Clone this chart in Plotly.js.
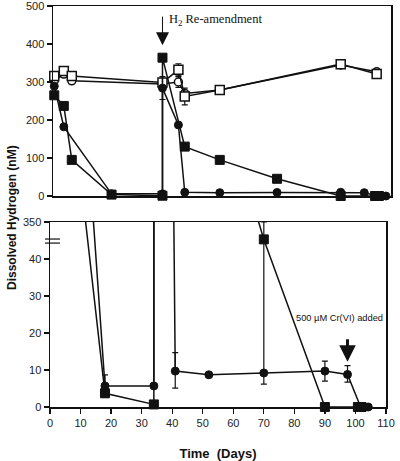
<!DOCTYPE html>
<html><head><meta charset="utf-8">
<script src="https://cdn.plot.ly/plotly-3.0.1.min.js"></script>
<style>html,body{margin:0;padding:0;background:#fff}</style>
</head><body>
<div id="chart" style="width:400px;height:461px"></div>
<script>
// Filled squares
const sqDays = [0, 3, 5.5, 18, 34, 34, 41, 52, 70, 90, 100.8, 102];
const sqVals = [265, 237, 95, 3.7, 0.7, 364, 130, 95, 45.3, 0, 0, 0];
// Filled circles
const ciDays = [0, 3, 18, 34, 34, 39, 41, 52, 70, 90, 97.4, 101.7, 104.2];
const ciVals = [289, 182, 5.7, 5.7, 284, 187, 9.7, 8.7, 9.2, 9.7, 8.8, 0, 0];
const ciErrTopPlus  = [0, 0, 0, 0, 30, 0, 0, 0, 0, 0, 0, 0, 0];
const ciErrTopMinus = [0, 0, 0, 0, 30, 0, 0, 0, 0, 0, 0, 0, 0];
const ciErrBotPlus  = [0, 0, 3, 0, 0, 0, 5, 0, 40.8, 2.7, 2.4, 0, 0];
const ciErrBotMinus = [0, 0, 3, 0, 0, 0, 4.6, 0, 3, 2.7, 2.1, 0, 0];
// Open squares
const osDays = [0, 3, 5.5, 34, 39, 41, 52, 90, 101.3];
const osVals = [316, 329, 316, 299, 332, 262, 279, 347, 321];
const osErr  = [0, 0, 0, 0, 16, 22, 0, 0, 0];
// Open circles
const ocDays = [0, 3, 5.5, 34, 39, 41, 52, 90, 101.3];
const ocVals = [303, 321, 303, 295, 300, 270, 279, 345, 327];
const ocErr  = [0, 0, 0, 0, 14, 0, 0, 0, 0];
// Axis ticks
const botYTickVals = [0, 10, 20, 30, 40, 50];
const botYTickText = ['0', '10', '20', '30', '40', '350'];
const topYTickVals = [0, 100, 200, 300, 400, 500];

const BLACK = '#111';
const lineStyle = {color: BLACK, width: 1.5};
const mSq = {symbol: 'square', size: 9, color: BLACK, line: {color: BLACK, width: 1}};
const mCi = {symbol: 'circle', size: 8, color: BLACK, line: {color: BLACK, width: 1}};
const mOs = {symbol: 'square', size: 9, color: '#fff', line: {color: BLACK, width: 1.5}};
const mOc = {symbol: 'circle', size: 8, color: '#fff', line: {color: BLACK, width: 1.5}};

function errY(plus, minus) {
  return {type: 'data', symmetric: false, array: plus, arrayminus: minus || plus,
          color: BLACK, thickness: 1.2, width: 3};
}

// Bottom panel: lines (clipped) + markers only where in range
function inRange(days, vals, lim, extra) {
  const x = [], y = [], p = [], m = [];
  days.forEach((d, i) => {
    if (vals[i] <= lim) {
      x.push(d); y.push(vals[i]);
      if (extra) { p.push(extra[0][i]); m.push(extra[1][i]); }
    }
  });
  return {x, y, p, m};
}
const ciB = inRange(ciDays, ciVals, 50, [ciErrBotPlus, ciErrBotMinus]);
const sqB = inRange(sqDays, sqVals, 50);

const traces = [
  // top panel
  {x: ocDays, y: ocVals, xaxis: 'x', yaxis: 'y', mode: 'lines+markers', line: lineStyle, marker: mOc,
   error_y: errY(ocErr), cliponaxis: false},
  {x: osDays, y: osVals, xaxis: 'x', yaxis: 'y', mode: 'lines+markers', line: lineStyle, marker: mOs,
   error_y: errY(osErr), cliponaxis: false},
  {x: ciDays, y: ciVals, xaxis: 'x', yaxis: 'y', mode: 'lines+markers', line: lineStyle, marker: mCi,
   error_y: errY(ciErrTopPlus, ciErrTopMinus), cliponaxis: false},
  {x: sqDays, y: sqVals, xaxis: 'x', yaxis: 'y', mode: 'lines+markers', line: lineStyle, marker: mSq,
   cliponaxis: false},
  // bottom panel lines
  {x: sqDays, y: sqVals, xaxis: 'x2', yaxis: 'y2', mode: 'lines', line: lineStyle},
  {x: ciDays, y: ciVals, xaxis: 'x2', yaxis: 'y2', mode: 'lines', line: lineStyle},
  // bottom panel markers
  {x: sqB.x, y: sqB.y, xaxis: 'x2', yaxis: 'y2', mode: 'markers', marker: mSq, cliponaxis: false},
  {x: ciB.x, y: ciB.y, xaxis: 'x2', yaxis: 'y2', mode: 'markers', marker: mCi, cliponaxis: false,
   error_y: errY(ciB.p, ciB.m)}
];

const tickFont = {family: 'Liberation Sans, Arial, sans-serif', size: 11, color: '#222'};
const W = 400, H = 461;
const layout = {
  width: W, height: H,
  margin: {l: 0, r: 0, t: 0, b: 0},
  paper_bgcolor: '#fff', plot_bgcolor: '#fff',
  showlegend: false,
  font: tickFont,
  xaxis: {domain: [53 / W, 391 / W], range: [-0.4, 105.8], anchor: 'y',
          showticklabels: false, ticks: '', showgrid: false, zeroline: false,
          showline: true, linecolor: BLACK, linewidth: 1.5, mirror: true},
  yaxis: {domain: [(H - 196) / H, (H - 6) / H], range: [0, 500], anchor: 'x',
          tickvals: topYTickVals, ticks: 'outside', ticklen: 5, tickwidth: 1.2, tickcolor: BLACK,
          ticklabeloverflow: 'allow',
          showgrid: false, zeroline: false, showline: true, linecolor: BLACK, linewidth: 1.5, mirror: true,
          tickfont: tickFont},
  xaxis2: {domain: [50 / W, 386 / W], range: [0, 110], anchor: 'y2', dtick: 10,
           ticks: 'outside', ticklen: 5, tickwidth: 1.2, tickcolor: BLACK,
           ticklabeloverflow: 'allow',
           showgrid: false, zeroline: false, showline: true, linecolor: BLACK, linewidth: 1.5, mirror: true,
           tickfont: tickFont,
           title: {text: 'Time  (Days)', font: {family: 'Liberation Sans, Arial, sans-serif', size: 13, color: '#111', weight: 'bold'}, standoff: 22}},
  yaxis2: {domain: [(H - 407) / H, (H - 222) / H], range: [0, 50], anchor: 'x2',
           tickvals: botYTickVals, ticktext: botYTickText,
           ticks: 'outside', ticklen: 5, tickwidth: 1.2, tickcolor: BLACK,
           ticklabeloverflow: 'allow',
           showgrid: false, zeroline: false, showline: true, linecolor: BLACK, linewidth: 1.5, mirror: true,
           tickfont: tickFont},
  shapes: [
    {type: 'line', xref: 'paper', yref: 'y2', x0: 45 / W, x1: 60 / W, y0: 45.4, y1: 45.4, line: {color: BLACK, width: 1.2}},
    {type: 'line', xref: 'paper', yref: 'y2', x0: 45 / W, x1: 60 / W, y0: 44.3, y1: 44.3, line: {color: BLACK, width: 1.2}}
  ],
  annotations: [
    {xref: 'x', yref: 'y', x: 34, y: 397, ax: 0, ay: -36, text: ' ', showarrow: true,
     arrowhead: 2, arrowsize: 2.6, arrowwidth: 1, arrowcolor: BLACK},
    {xref: 'x', yref: 'y', x: 35.4, y: 462, xanchor: 'left', yanchor: 'middle', showarrow: false,
     text: 'H<sub>2</sub> Re-amendment', font: {family: 'Liberation Serif, Times New Roman, serif', size: 12.5, color: '#111'}},
    {xref: 'x2', yref: 'y2', x: 97.4, y: 12.2, ax: 0, ay: -30, text: ' ', showarrow: true,
     arrowhead: 2, arrowsize: 1.1, arrowwidth: 3, arrowcolor: BLACK},
    {xref: 'x2', yref: 'y2', x: 109.6, y: 24, showarrow: false, xanchor: 'right', yanchor: 'middle',
     text: '500 µM Cr(VI) added', font: {family: 'Liberation Sans, Arial, sans-serif', size: 9.3, color: '#111'}},
    {xref: 'paper', yref: 'paper', x: 12 / W, y: (H - 218) / H, showarrow: false, textangle: -90,
     xanchor: 'center', yanchor: 'middle',
     text: 'Dissolved Hydrogen (nM)', font: {family: 'Liberation Sans, Arial, sans-serif', size: 12, color: '#111', weight: 'bold'}}
  ]
};

Plotly.newPlot('chart', traces, layout, {displayModeBar: false, staticPlot: true});
</script>
</body></html>
